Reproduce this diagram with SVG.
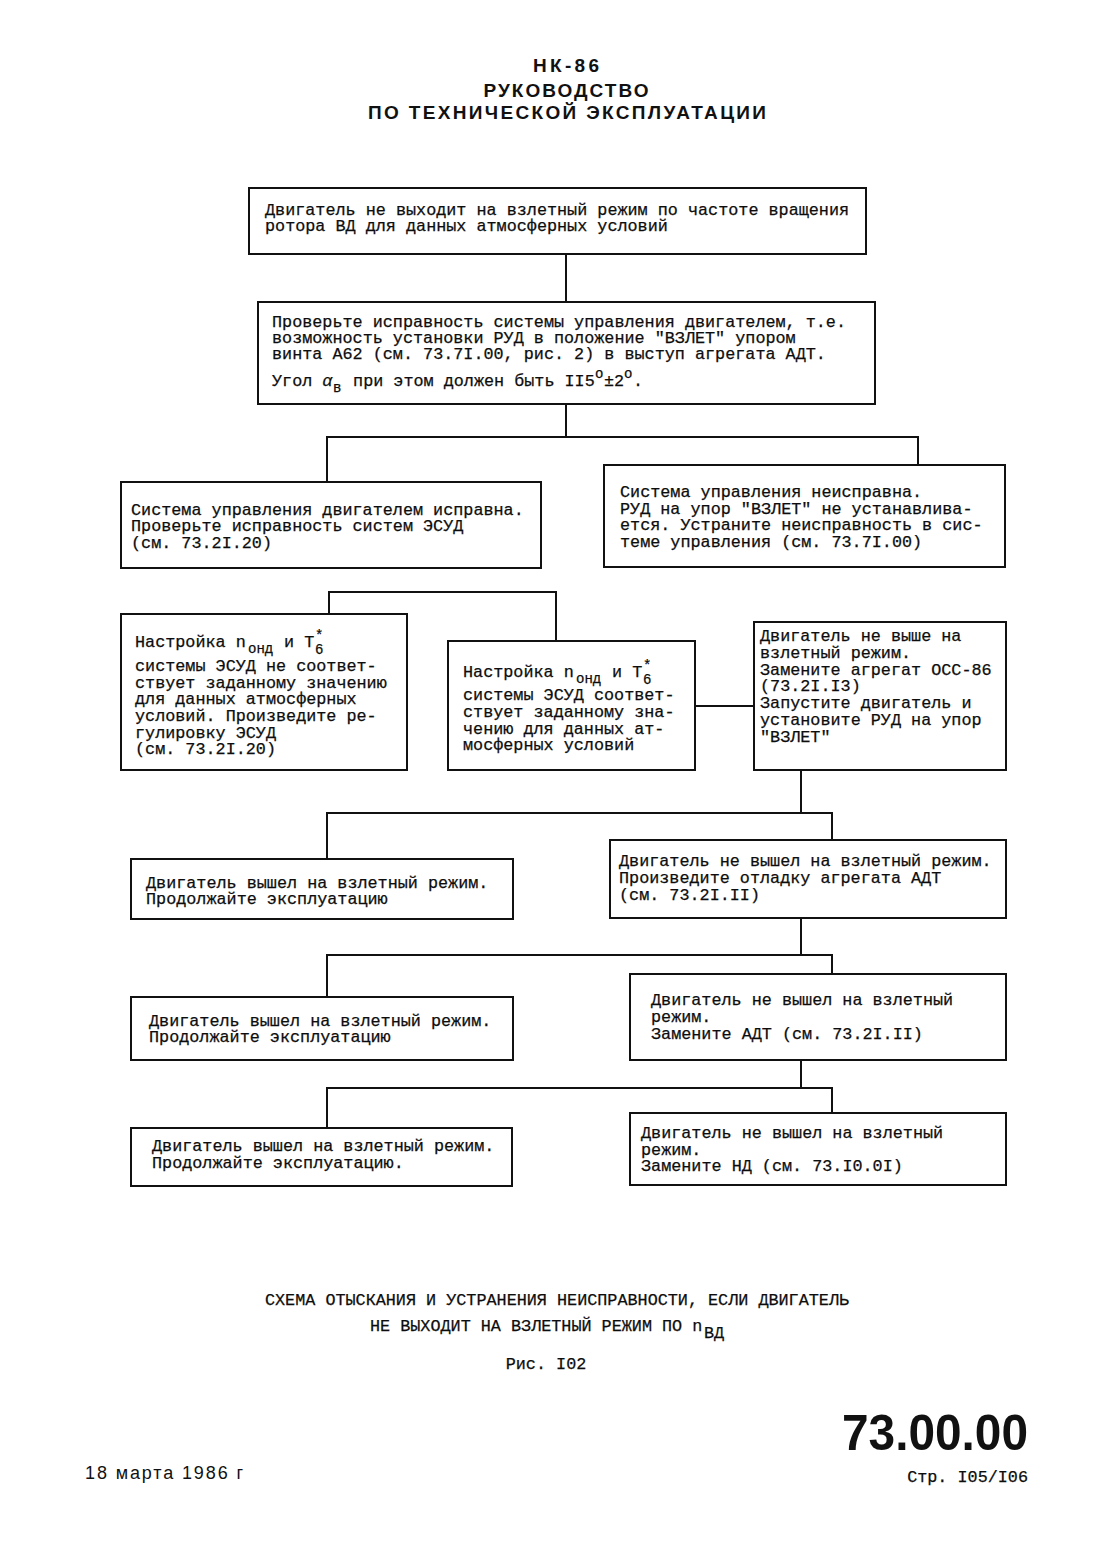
<svg xmlns="http://www.w3.org/2000/svg" width="1114" height="1562" viewBox="0 0 1114 1562">
<style>
.bg{fill:#ffffff}
.box{fill:#ffffff;stroke:#111;stroke-width:2}
.con{fill:none;stroke:#111;stroke-width:2}
.t{font-family:"Liberation Mono","DejaVu Sans Mono",monospace;font-size:16.8px;fill:#0d0d0d;stroke:#0d0d0d;stroke-width:0.25}
.s{font-size:14px}
.h{font-family:"Liberation Sans","DejaVu Sans",sans-serif;font-weight:bold;font-size:19px;fill:#111}
</style>
<rect class="bg" x="0" y="0" width="1114" height="1562"/>
<g id="header">
<text class="h" x="566" y="72" text-anchor="middle" textLength="66" lengthAdjust="spacing">НК-86</text>
<text class="h" x="566" y="97" text-anchor="middle" textLength="165" lengthAdjust="spacing">РУКОВОДСТВО</text>
<text class="h" x="567" y="119" text-anchor="middle" textLength="398" lengthAdjust="spacing">ПО  ТЕХНИЧЕСКОЙ  ЭКСПЛУАТАЦИИ</text>
</g>
<g id="connectors">
<path class="con" d="M566,254 V302"/>
<path class="con" d="M566,404 V437"/>
<path class="con" d="M327,482 V437 H918 V465"/>
<path class="con" d="M329,614 V592 H556 V641"/>
<path class="con" d="M695,706 H754"/>
<path class="con" d="M801,770 V813"/>
<path class="con" d="M327,859 V813 H832 V840"/>
<path class="con" d="M801,918 V955"/>
<path class="con" d="M327,997 V955 H832 V974"/>
<path class="con" d="M801,1060 V1088"/>
<path class="con" d="M327,1128 V1088 H832 V1113"/>
</g>
<g id="n1">
<rect class="box" x="249" y="188" width="617" height="66"/>
<text class="t" x="265" y="215">Двигатель не выходит на взлетный режим по частоте вращения</text>
<text class="t" x="265" y="231">ротора ВД для данных атмосферных условий</text>
</g>
<g id="n2">
<rect class="box" x="258" y="302" width="617" height="102"/>
<text class="t" x="272" y="327">Проверьте исправность системы управления двигателем, т.е.</text>
<text class="t" x="272" y="343">возможность установки РУД в положение "ВЗЛЕТ" упором</text>
<text class="t" x="272" y="359">винта А62 (см. 73.7I.00, рис. 2) в выступ агрегата АДТ.</text>
<text class="t" x="272" y="386">Угол <tspan font-style="italic">α</tspan><tspan class="s" x="333" y="392">в</tspan><tspan x="343" y="386"> при этом должен быть II5</tspan><tspan class="s" x="595" y="378">о</tspan><tspan x="604" y="386">±2</tspan><tspan class="s" x="624" y="378">о</tspan><tspan x="633" y="386">.</tspan></text>
</g>
<g id="n3L">
<rect class="box" x="121" y="482" width="420" height="86"/>
<text class="t" x="131" y="515">Система управления двигателем исправна.</text>
<text class="t" x="131" y="531">Проверьте исправность систем ЭСУД</text>
<text class="t" x="131" y="548">(см. 73.2I.20)</text>
</g>
<g id="n3R">
<rect class="box" x="604" y="465" width="401" height="102"/>
<text class="t" x="620" y="497">Система управления неисправна.</text>
<text class="t" x="620" y="514">РУД на упор "ВЗЛЕТ" не устанавлива-</text>
<text class="t" x="620" y="530">ется. Устраните неисправность в сис-</text>
<text class="t" x="620" y="547">теме управления (см. 73.7I.00)</text>
</g>
<g id="n4L">
<rect class="box" x="121" y="614" width="286" height="156"/>
<text class="t" x="135" y="647">Настройка n<tspan class="s" x="248" y="653">онд</tspan><tspan x="274" y="647"> и T</tspan><tspan class="s" x="315" y="640">*</tspan><tspan class="s" x="315" y="654">6</tspan></text>
<text class="t" x="135" y="671">системы ЭСУД не соответ-</text>
<text class="t" x="135" y="688">ствует заданному значению</text>
<text class="t" x="135" y="704">для данных атмосферных</text>
<text class="t" x="135" y="721">условий. Произведите ре-</text>
<text class="t" x="135" y="738">гулировку ЭСУД</text>
<text class="t" x="135" y="754">(см. 73.2I.20)</text>
</g>
<g id="n4M">
<rect class="box" x="448" y="641" width="247" height="129"/>
<text class="t" x="463" y="677">Настройка n<tspan class="s" x="576" y="683">онд</tspan><tspan x="602" y="677"> и T</tspan><tspan class="s" x="643" y="670">*</tspan><tspan class="s" x="643" y="684">6</tspan></text>
<text class="t" x="463" y="700">системы ЭСУД соответ-</text>
<text class="t" x="463" y="717">ствует заданному зна-</text>
<text class="t" x="463" y="734">чению для данных ат-</text>
<text class="t" x="463" y="750">мосферных условий</text>
</g>
<g id="n4R">
<rect class="box" x="754" y="622" width="252" height="148"/>
<text class="t" x="760" y="641">Двигатель не выше на</text>
<text class="t" x="760" y="658">взлетный режим.</text>
<text class="t" x="760" y="675">Замените агрегат ОСС-86</text>
<text class="t" x="760" y="691">(73.2I.I3)</text>
<text class="t" x="760" y="708">Запустите двигатель и</text>
<text class="t" x="760" y="725">установите РУД на упор</text>
<text class="t" x="760" y="742">"ВЗЛЕТ"</text>
</g>
<g id="n5L">
<rect class="box" x="131" y="859" width="382" height="60"/>
<text class="t" x="146" y="888">Двигатель вышел на взлетный режим.</text>
<text class="t" x="146" y="904">Продолжайте эксплуатацию</text>
</g>
<g id="n5R">
<rect class="box" x="610" y="840" width="396" height="78"/>
<text class="t" x="619" y="866">Двигатель не вышел на взлетный режим.</text>
<text class="t" x="619" y="883">Произведите отладку агрегата АДТ</text>
<text class="t" x="619" y="900">(см. 73.2I.II)</text>
</g>
<g id="n6L">
<rect class="box" x="131" y="997" width="382" height="63"/>
<text class="t" x="149" y="1026">Двигатель вышел на взлетный режим.</text>
<text class="t" x="149" y="1042">Продолжайте эксплуатацию</text>
</g>
<g id="n6R">
<rect class="box" x="630" y="974" width="376" height="86"/>
<text class="t" x="651" y="1005">Двигатель не вышел на взлетный</text>
<text class="t" x="651" y="1022">режим.</text>
<text class="t" x="651" y="1039">Замените АДТ (см. 73.2I.II)</text>
</g>
<g id="n7L">
<rect class="box" x="131" y="1128" width="381" height="58"/>
<text class="t" x="152" y="1151">Двигатель вышел на взлетный режим.</text>
<text class="t" x="152" y="1168">Продолжайте эксплуатацию.</text>
</g>
<g id="n7R">
<rect class="box" x="630" y="1113" width="376" height="72"/>
<text class="t" x="641" y="1138">Двигатель не вышел на взлетный</text>
<text class="t" x="641" y="1155">режим.</text>
<text class="t" x="641" y="1171">Замените НД (см. 73.I0.0I)</text>
</g>
<g id="caption">
<text class="t" x="557" y="1305" text-anchor="middle">СХЕМА ОТЫСКАНИЯ И УСТРАНЕНИЯ НЕИСПРАВНОСТИ, ЕСЛИ ДВИГАТЕЛЬ</text>
<text class="t" x="370" y="1331">НЕ ВЫХОДИТ НА ВЗЛЕТНЫЙ РЕЖИМ ПО n<tspan x="704" y="1338">ВД</tspan></text>
<text class="t" x="546" y="1369" text-anchor="middle">Рис. I02</text>
</g>
<g id="footer">
<text x="1028" y="1450" text-anchor="end" font-family="Liberation Sans, Arial, sans-serif" font-weight="bold" font-size="50" fill="#111" textLength="186" lengthAdjust="spacingAndGlyphs">73.00.00</text>
<text x="85" y="1479" font-family="Liberation Sans, Arial, sans-serif" font-size="18" fill="#111" textLength="158" lengthAdjust="spacing">18 марта 1986 г</text>
<text class="t" x="1028" y="1482" text-anchor="end">Стр. I05/I06</text>
</g>
</svg>
